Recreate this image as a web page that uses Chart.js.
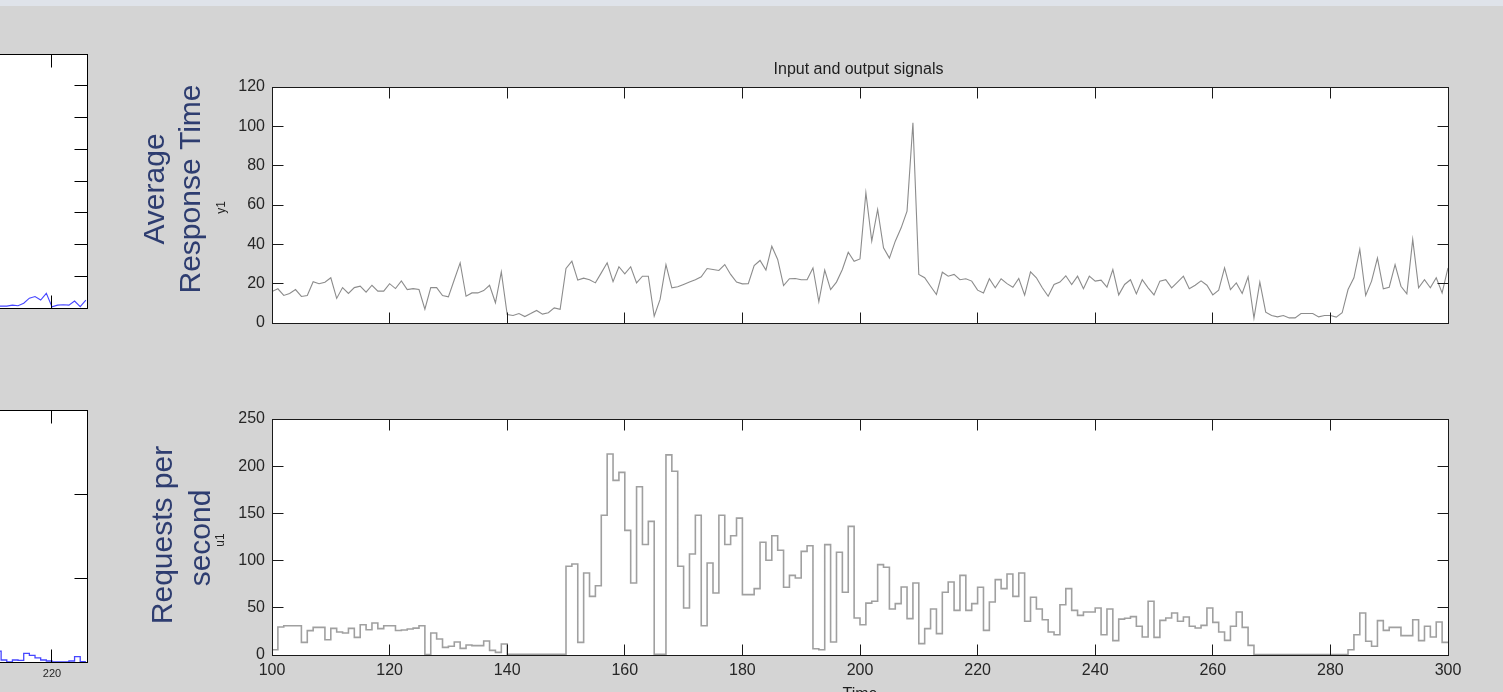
<!DOCTYPE html>
<html lang="en">

<head>
    <meta charset="UTF-8">
    <title>Input and output signals</title>
    <script src="https://cdn.jsdelivr.net/npm/chart.js"></script>
    <style>
        html,
        body {
            margin: 0;
            padding: 0;
        }

        body {
            position: relative;
            width: 1503px;
            height: 692px;
            overflow: hidden;
            background: #d4d4d4;
            font-family: Arial, "Liberation Sans", sans-serif;
        }

        /* thin light strip along the top edge of the window */
        .topbar {
            position: absolute;
            left: 0;
            top: 0;
            width: 1503px;
            height: 6px;
            background: #dfe3ea;
        }

        canvas {
            position: absolute;
        }

        #outChart { left: 100px; top: 50px; }
        #inChart { left: 100px; top: 395px; }
        #leftTop { left: -200px; top: 40px; }
        #leftBottom { left: -200px; top: 400px; }
    </style>
</head>

<body>
    <div class="topbar"></div>
    <canvas id="outChart" width="1390" height="300"></canvas>
    <canvas id="inChart" width="1390" height="297"></canvas>
    <canvas id="leftTop" width="300" height="290"></canvas>
    <canvas id="leftBottom" width="300" height="292"></canvas>

    <script>
        // ---- data ----
        const timeStart = 100;           // first sample, one sample per second up to 300
        const timeTicks = [100, 120, 140, 160, 180, 200, 220, 240, 260, 280, 300];

        // y1 : average response time (100 .. 300)
        const responseTime = [
            16, 17.4, 14, 15, 17, 13.5, 14, 21, 20, 20.7,
            23, 12.5, 18, 15, 18, 18.7, 15.7, 19.2, 16.2, 16.2,
            20, 17.5, 21.4, 17, 17.5, 17, 7, 18, 18, 14,
            13.3, 22, 30.6, 13.6, 15.3, 15.3, 16.5, 19.2, 10.3, 26,
            4.3, 3.8, 4.8, 3.3, 4.8, 6.4, 4.5, 5.2, 7.7, 7,
            27.7, 31.4, 21.8, 22.8, 22, 20.4, 25.5, 30.6, 21, 28.6,
            25, 28.6, 20.4, 23.8, 23.8, 3.5, 12, 29.7, 17.9, 18.4,
            19.6, 20.8, 22, 23.5, 27.7, 27.2, 26.7, 29.7, 24.7, 20.8,
            19.9, 20, 29.2, 31.8, 26.9, 39, 32.3, 19, 22.5, 22.6,
            22, 22, 28, 10.8, 26.9, 17, 20.8, 27.2, 36, 31.4,
            32.6, 66.2, 41.6, 57.7, 38.2, 33, 41.6, 48.4, 56.9, 101.8,
            24.7, 23, 18.7, 14.5, 25.8, 23.8, 24.7, 22, 22.5, 21.3,
            16.7, 15.3, 22.5, 17.9, 22.5, 20, 18.2, 22.6, 14.2, 26,
            23, 17.9, 13.6, 19.6, 20.8, 24, 19.6, 23.8, 17.4, 23.8,
            21.3, 21.8, 18.2, 27.2, 14.3, 19.6, 22, 14.8, 22, 17.9,
            14.3, 21.3, 22, 17.9, 20.8, 23.8, 17.4, 19.2, 21.4, 19.2,
            14.3, 16.7, 28, 17, 20.4, 15, 23.5, 2.5, 20.8, 5.5,
            3.8, 3.1, 3.8, 2.6, 2.6, 4.8, 4.8, 4.8, 3.1, 3.8,
            3.8, 3, 5.2, 17, 23, 37.4, 14, 21.3, 33, 17.4,
            18.2, 29.7, 18.7, 14.8, 42.5, 17.9, 22, 17.9, 23, 15.3,
            28
        ];
        const responseTicks = [0, 20, 40, 60, 80, 100, 120];

        // u1 : requests per second (stairs, 100 .. 300)
        const requestRate = [
            5.6, 29.7, 31, 31, 31, 13.4, 25.8, 29.3, 29.3, 16.2,
            28.2, 24.4, 23.3, 28.2, 18.7, 32.1, 26.8, 33.9, 27.9, 31,
            31, 26, 26.5, 27.5, 28.5, 31, 0.4, 23.3, 17, 8.1,
            9.2, 13.8, 7, 10.6, 9.9, 9.9, 14.8, 4.9, 2.8, 11.7,
            0.7, 0.7, 0.7, 0.7, 0.7, 0.7, 0.7, 0.7, 0.7, 0.7,
            94, 96.4, 13.4, 86.9, 62.1, 73.4, 148, 213, 185, 193.5,
            132, 76.3, 178.3, 117, 141.6, 0.8, 0.8, 212, 194.6, 94,
            49.8, 107, 148, 31, 97.5, 65.7, 148, 117, 126.4, 145,
            64, 64, 70.3, 119.4, 100.3, 126.4, 111, 71.7, 84.4, 81.6,
            109.8, 115.8, 6.7, 5.6, 116.9, 13.8, 108.8, 66.4, 136.3, 39.2,
            32.1, 55, 56.9, 95.7, 92.9, 48.7, 54.4, 72, 38.5, 76.3,
            12, 27.9, 48.7, 22.6, 66.4, 77.3, 47.3, 84.4, 47.3, 54.4,
            71.7, 26.1, 56.1, 79.8, 70.3, 85.8, 62.1, 86.9, 35.7, 61.1,
            48.7, 37.4, 24.4, 21.5, 53.3, 70.3, 47.3, 42, 45.6, 45.6,
            49.8, 21.5, 48.7, 15.2, 38, 39, 40.6, 30.4, 19, 56.9,
            18.7, 36.7, 39.2, 44.5, 35.7, 40.3, 30.4, 28.6, 31.4, 49.8,
            34.6, 24.4, 15.5, 30.4, 45.6, 29.3, 10.2, 0.4, 0.4, 0.4,
            0.4, 0.4, 0.4, 0.4, 0.4, 0.4, 0.4, 0.4, 0.4, 0.4,
            0.4, 0.4, 0.4, 5.6, 21.5, 44.5, 14.5, 9.2, 36.4, 26.1,
            29.3, 29.3, 20.5, 20.5, 37.4, 15.2, 30.4, 19, 35, 13.4,
            13.4
        ];
        const requestTicks = [0, 50, 100, 150, 200, 250];

        // the neighbouring figure, only its right edge is in view
        const leftStart = 210;
        const leftTimeTicks = [200, 220];
        const leftTopValues = [0.06, 0.06, 0.06, 0.09, 0.07, 0.15, 0.31, 0.36, 0.25, 0.46, 0.04, 0.09, 0.1, 0.09, 0.22, 0.04, 0.25];
        const leftTopTicks = [0, 1, 2, 3, 4, 5, 6, 7, 8];
        const leftBottomValues = [0.13, 0.024, 0, 0.024, 0.02, 0.103, 0.08, 0.048, 0.024, 0.012, 0, 0, 0, 0.012, 0.064, 0.005, 0.005];
        const leftBottomTicks = [0, 1, 2, 3];

        const FONT = 'Arial, "Liberation Sans", sans-serif';
        const NAVY = '#2e3d70';

        // MATLAB style box: white plot area, frame, ticks pointing inwards, free texts
        const matlabAxes = {
            id: 'matlabAxes',
            beforeDatasetsDraw(chart) {
                const { ctx, chartArea: a } = chart;
                ctx.save();
                ctx.fillStyle = '#ffffff';
                ctx.fillRect(a.left, a.top, a.right - a.left, a.bottom - a.top);
                ctx.restore();
            },
            afterDatasetsDraw(chart, args, opts) {
                const { ctx, chartArea: a, scales } = chart;
                const L = Math.floor(a.left) + 0.5, R = Math.floor(a.right) + 0.5;
                const T = Math.floor(a.top) + 0.5, B = Math.floor(a.bottom) + 0.5;
                const len = opts.tickLen;
                ctx.save();
                ctx.strokeStyle = opts.color;
                ctx.lineWidth = 1;
                ctx.beginPath();
                scales.x.ticks.forEach(t => {
                    const px = Math.floor(scales.x.getPixelForValue(t.value)) + 0.5;
                    if (px <= L + 1 || px >= R - 1) return;
                    ctx.moveTo(px, T); ctx.lineTo(px, T + len);
                    ctx.moveTo(px, B); ctx.lineTo(px, B - len);
                });
                scales.y.ticks.forEach(t => {
                    const py = Math.floor(scales.y.getPixelForValue(t.value)) + 0.5;
                    if (py <= T + 1 || py >= B - 1) return;
                    ctx.moveTo(L, py); ctx.lineTo(L + len, py);
                    ctx.moveTo(R, py); ctx.lineTo(R - len, py);
                });
                ctx.stroke();
                ctx.strokeRect(L, T, R - L, B - T);

                (opts.texts || []).forEach(t => {
                    ctx.save();
                    ctx.translate(t.x - opts.origin[0], t.y - opts.origin[1]);
                    if (t.vertical) ctx.rotate(-Math.PI / 2);
                    ctx.font = t.font;
                    ctx.fillStyle = t.color;
                    ctx.textAlign = 'center';
                    ctx.textBaseline = t.baseline || 'middle';
                    ctx.fillText(t.text, 0, 0);
                    ctx.restore();
                });
                ctx.restore();
            }
        };

        function toPoints(start, values) {
            return values.map((v, i) => ({ x: start + i, y: v }));
        }

        function makeChart(id, cfg) {
            return new Chart(document.getElementById(id), {
                type: 'line',
                data: {
                    datasets: [{
                        data: cfg.points,
                        borderColor: cfg.color,
                        borderWidth: cfg.lineWidth,
                        stepped: cfg.stepped || false,
                        pointRadius: 0,
                        tension: 0,
                        fill: false
                    }]
                },
                options: {
                    responsive: false,
                    animation: false,
                    events: [],
                    layout: { padding: cfg.padding },
                    plugins: {
                        legend: { display: false },
                        tooltip: { enabled: false },
                        matlabAxes: {
                            origin: cfg.origin,
                            color: cfg.frameColor || '#1a1a1a',
                            tickLen: cfg.tickLen,
                            texts: cfg.texts
                        }
                    },
                    scales: {
                        x: {
                            type: 'linear',
                            min: cfg.xMin,
                            max: cfg.xMax,
                            grid: { display: false, drawTicks: false },
                            border: { display: false },
                            ticks: {
                                display: cfg.xLabels,
                                color: '#262626',
                                font: { family: FONT, size: cfg.xFont || 16 },
                                padding: cfg.xPad || 6,
                                maxRotation: 0,
                                autoSkip: false
                            },
                            afterBuildTicks: s => { s.ticks = cfg.xTicks.map(v => ({ value: v })); },
                            afterFit: s => { s.height = cfg.xAxisH; }
                        },
                        y: {
                            min: cfg.yTicks[0],
                            max: cfg.yTicks[cfg.yTicks.length - 1],
                            grid: { display: false, drawTicks: false },
                            border: { display: false },
                            ticks: {
                                display: cfg.yLabels,
                                color: '#262626',
                                font: { family: FONT, size: 16 },
                                padding: 7
                            },
                            afterBuildTicks: s => { s.ticks = cfg.yTicks.map(v => ({ value: v })); },
                            afterFit: s => { s.width = cfg.yAxisW; }
                        }
                    }
                },
                plugins: [matlabAxes]
            });
        }

        // Output signal, top panel
        makeChart('outChart', {
            origin: [100, 50],
            points: toPoints(timeStart, responseTime),
            color: '#8c8c8c', lineWidth: 1.1,
            padding: { left: 0, top: 37, right: 42, bottom: 7 },
            yAxisW: 172, xAxisH: 20,
            xMin: 100, xMax: 300, xTicks: timeTicks, xLabels: false,
            yTicks: responseTicks, yLabels: true,
            tickLen: 11,
            texts: [
                { text: 'Input and output signals', x: 858.5, y: 70, font: '16px ' + FONT, color: '#1e1e1e' },
                { text: 'Average', x: 163.5, y: 189, vertical: true, baseline: 'alphabetic', font: '30px ' + FONT, color: NAVY },
                { text: 'Response Time', x: 199.5, y: 189, vertical: true, baseline: 'alphabetic', font: '30px ' + FONT, color: NAVY },
                { text: 'y1', x: 221.5, y: 207.5, vertical: true, font: '12px ' + FONT, color: '#222' }
            ]
        });

        // Input signal, bottom panel
        makeChart('inChart', {
            origin: [100, 395],
            points: toPoints(timeStart, requestRate),
            color: '#a0a0a0', lineWidth: 1.6, stepped: 'before',
            padding: { left: 0, top: 24, right: 42, bottom: 0 },
            yAxisW: 172, xAxisH: 37,
            xMin: 100, xMax: 300, xTicks: timeTicks, xLabels: true, xPad: 6,
            yTicks: requestTicks, yLabels: true,
            tickLen: 11,
            texts: [
                { text: 'Requests per', x: 171.5, y: 535, vertical: true, baseline: 'alphabetic', font: '30px ' + FONT, color: NAVY },
                { text: 'second', x: 210, y: 538, vertical: true, baseline: 'alphabetic', font: '30px ' + FONT, color: NAVY },
                { text: 'u1', x: 221, y: 540, vertical: true, font: '12px ' + FONT, color: '#222' },
                { text: 'Time', x: 860, y: 699, baseline: 'alphabetic', font: '16px ' + FONT, color: '#1e1e1e' }
            ]
        });

        // Neighbouring figure (cut off at the left edge)
        makeChart('leftTop', {
            origin: [-200, 40],
            points: toPoints(leftStart, leftTopValues),
            color: '#4646ff', lineWidth: 1.1,
            padding: { left: 0, top: 14, right: 13, bottom: 0 },
            yAxisW: 50, xAxisH: 22,
            xMin: 184.25, xMax: 226.2, xTicks: leftTimeTicks, xLabels: false,
            yTicks: leftTopTicks, yLabels: false,
            tickLen: 13, frameColor: '#000'
        });

        makeChart('leftBottom', {
            origin: [-200, 400],
            points: toPoints(leftStart, leftBottomValues),
            color: '#4646ff', lineWidth: 1.3, stepped: 'before',
            padding: { left: 0, top: 10, right: 13, bottom: 0 },
            yAxisW: 50, xAxisH: 30,
            xMin: 184.25, xMax: 226.2, xTicks: leftTimeTicks, xLabels: true, xFont: 11, xPad: 5,
            yTicks: leftBottomTicks, yLabels: false,
            tickLen: 13, frameColor: '#000'
        });
    </script>
</body>

</html>
